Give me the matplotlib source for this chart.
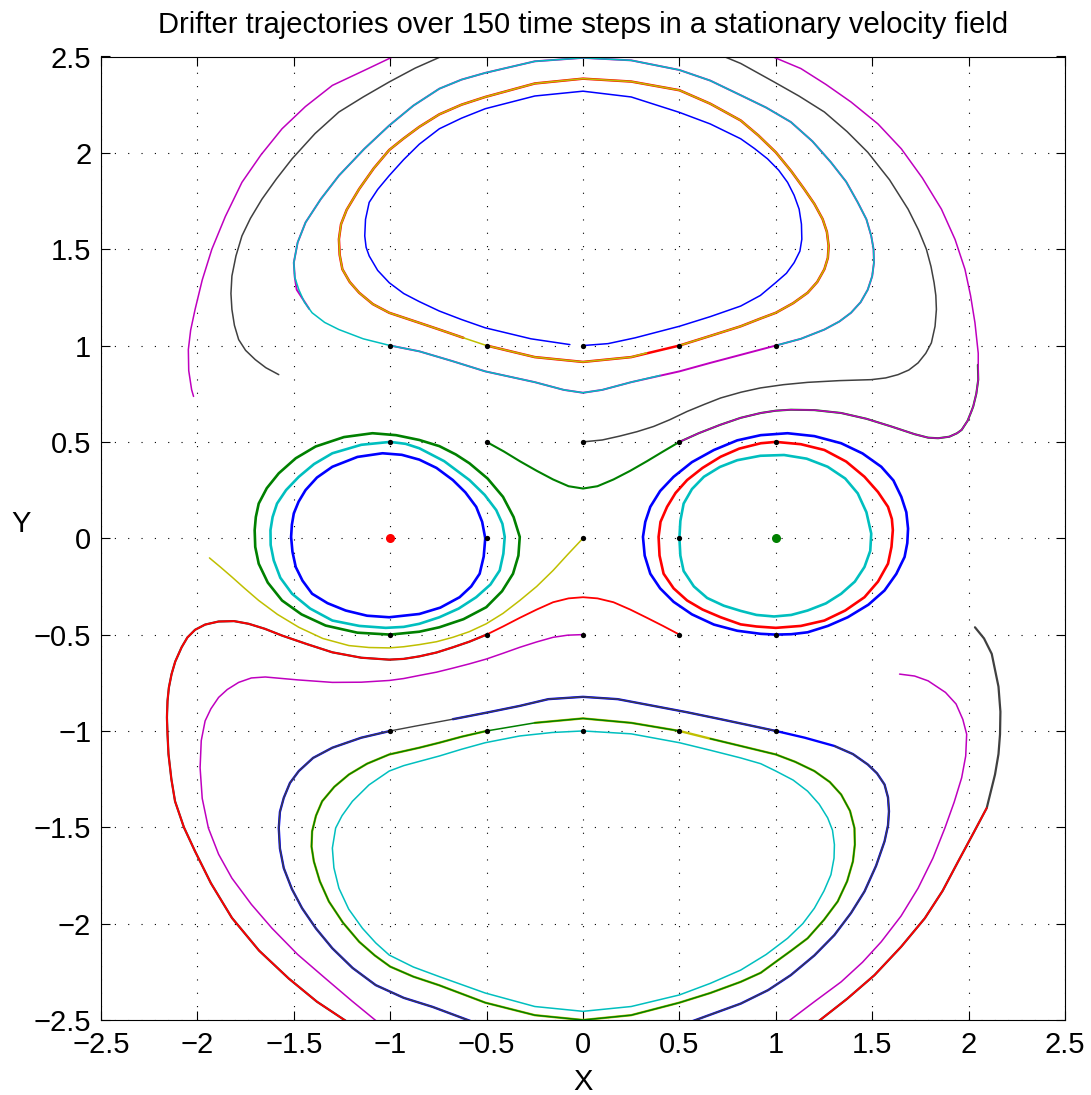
import numpy as np
import matplotlib
matplotlib.use("Agg")
import matplotlib.pyplot as plt

plt.rcParams['font.family'] = ['Liberation Sans', 'DejaVu Sans']
plt.rcParams['lines.scale_dashes'] = False

# ---------------- data ----------------
title = "Drifter trajectories over 150 time steps in a stationary velocity field"
x_ticks = [-2.5, -2, -1.5, -1, -0.5, 0, 0.5, 1, 1.5, 2, 2.5]
y_ticks = [-2.5, -2, -1.5, -1, -0.5, 0, 0.5, 1, 1.5, 2, 2.5]

start_x = [-1, -1, -1, -1, -1, -0.5, -0.5, -0.5, -0.5, -0.5, 0, 0, 0, 0, 0,
           0.5, 0.5, 0.5, 0.5, 0.5, 1, 1, 1, 1, 1]
start_y = [-1, -0.5, 0, 0.5, 1, -1, -0.5, 0, 0.5, 1, -1, -0.5, 0, 0.5, 1,
           -1, -0.5, 0, 0.5, 1, -1, -0.5, 0, 0.5, 1]

# streamlines shared by two drifters
loop_top_mid = [(-0.5, 1.0), (-0.25, 0.94), (0.0, 0.915), (0.25, 0.94), (0.5, 1.0), (0.66, 1.05),
                (0.818, 1.10), (0.92, 1.14), (1.0, 1.17), (1.09, 1.22), (1.165, 1.274),
                (1.215, 1.33), (1.252, 1.396), (1.27, 1.455), (1.274, 1.517), (1.265, 1.59),
                (1.243, 1.656), (1.2, 1.735), (1.147, 1.8125), (1.08, 1.905), (1.0, 2.003),
                (0.91, 2.09), (0.818, 2.168), (0.66, 2.255), (0.5, 2.325), (0.25, 2.37),
                (0.0, 2.385), (-0.25, 2.36), (-0.507, 2.29), (-0.63, 2.25), (-0.745, 2.2),
                (-0.849, 2.135), (-0.93, 2.075), (-1.005, 2.015), (-1.085, 1.92), (-1.161, 1.8125),
                (-1.226, 1.704), (-1.255, 1.63), (-1.266, 1.552), (-1.262, 1.47), (-1.248, 1.396),
                (-1.21, 1.33), (-1.161, 1.274), (-1.09, 1.215), (-1.005, 1.17), (-0.849, 1.118),
                (-0.745, 1.083), (-0.62, 1.04), (-0.5, 1.0)]
loop_top_out = [(-1.0, 1.0), (-0.849, 0.97), (-0.68, 0.92), (-0.507, 0.866), (-0.25, 0.81),
                (-0.1, 0.77), (0.0, 0.755), (0.1, 0.77), (0.25, 0.81), (0.5, 0.866), (0.66, 0.91),
                (0.815, 0.951), (1.0, 1.0), (1.13, 1.035), (1.252, 1.083), (1.33, 1.125),
                (1.39, 1.17), (1.44, 1.225), (1.477, 1.29), (1.5, 1.36), (1.509, 1.43),
                (1.507, 1.5), (1.495, 1.569), (1.47, 1.655), (1.425, 1.743), (1.365, 1.85),
                (1.286, 1.951), (1.19, 2.06), (1.078, 2.16), (0.95, 2.235), (0.818, 2.299),
                (0.66, 2.375), (0.5, 2.43), (0.25, 2.48), (0.0, 2.493), (-0.25, 2.475),
                (-0.507, 2.415), (-0.63, 2.38), (-0.745, 2.333), (-0.88, 2.245), (-1.005, 2.142),
                (-1.135, 2.02), (-1.266, 1.882), (-1.36, 1.76), (-1.439, 1.639), (-1.48, 1.535),
                (-1.5, 1.43), (-1.495, 1.355), (-1.474, 1.29), (-1.445, 1.225), (-1.405, 1.17),
                (-1.34, 1.12), (-1.266, 1.083), (-1.14, 1.035), (-1.0, 1.0)]
path_low_out = [(0.5, -0.5), (0.415, -0.455), (0.332, -0.413), (0.245, -0.37), (0.158, -0.332),
                (0.075, -0.312), (0.0, -0.306), (-0.075, -0.312), (-0.155, -0.332), (-0.24, -0.37),
                (-0.328, -0.413), (-0.415, -0.458), (-0.5, -0.5), (-0.59, -0.537), (-0.675, -0.566),
                (-0.76, -0.593), (-0.849, -0.613), (-0.93, -0.626), (-1.005, -0.63), (-1.15, -0.62),
                (-1.30, -0.592), (-1.43, -0.55), (-1.561, -0.505), (-1.65, -0.47), (-1.734, -0.444),
                (-1.81, -0.43), (-1.89, -0.432), (-1.96, -0.448), (-2.012, -0.475), (-2.052, -0.515),
                (-2.082, -0.566), (-2.115, -0.64), (-2.134, -0.705), (-2.148, -0.775),
                (-2.155, -0.844), (-2.158, -0.93), (-2.155, -1.017), (-2.15, -1.12), (-2.135, -1.25),
                (-2.116, -1.365), (-2.07, -1.5), (-2.012, -1.625), (-1.93, -1.79), (-1.821, -1.97),
                (-1.68, -2.14), (-1.526, -2.285), (-1.38, -2.405), (-1.222, -2.51), (0.0, -2.85),
                (1.217, -2.51), (1.37, -2.39), (1.512, -2.267), (1.65, -2.12), (1.773, -1.972),
                (1.865, -1.83), (1.946, -1.677), (2.025, -1.53), (2.094, -1.40)]
grey_tail = [(2.137, -1.226), (2.155, -1.12), (2.163, -1.017), (2.165, -0.90), (2.155, -0.77),
             (2.12, -0.60), (2.08, -0.52), (2.033, -0.462)]
loop_low_mid = [(0.5, -1.0), (0.25, -0.958), (0.0, -0.935), (-0.25, -0.958), (-0.5, -1.0),
                (-0.63, -1.03), (-0.745, -1.061), (-0.849, -1.087), (-1.005, -1.122), (-1.12, -1.17),
                (-1.214, -1.226), (-1.29, -1.29), (-1.353, -1.365), (-1.385, -1.44), (-1.405, -1.521),
                (-1.408, -1.6), (-1.396, -1.677), (-1.365, -1.78), (-1.318, -1.885), (-1.245, -1.995),
                (-1.161, -2.094), (-1.08, -2.165), (-1.0, -2.223), (-0.88, -2.275), (-0.745, -2.32),
                (-0.507, -2.41), (-0.25, -2.475), (0.0, -2.50), (0.25, -2.475), (0.5, -2.41),
                (0.66, -2.36), (0.818, -2.302), (0.922, -2.255), (1.0, -2.198), (1.08, -2.14),
                (1.165, -2.076), (1.25, -1.98), (1.321, -1.885), (1.37, -1.78), (1.4, -1.677),
                (1.41, -1.59), (1.408, -1.504), (1.385, -1.415), (1.339, -1.33), (1.28, -1.265),
                (1.2, -1.208), (1.1, -1.16), (1.0, -1.122), (0.818, -1.078), (0.66, -1.04),
                (0.5, -1.0)]
loop_low_out = [(-1.0, -1.0), (-1.15, -1.035), (-1.30, -1.087), (-1.40, -1.14), (-1.474, -1.208),
                (-1.52, -1.27), (-1.552, -1.347), (-1.572, -1.42), (-1.578, -1.504), (-1.572, -1.61),
                (-1.552, -1.712), (-1.51, -1.82), (-1.457, -1.92), (-1.385, -2.025), (-1.30, -2.128),
                (-1.195, -2.23), (-1.075, -2.319), (-0.93, -2.385), (-0.78, -2.432), (-0.571, -2.51),
                (0.0, -2.58), (0.557, -2.51), (0.818, -2.415), (0.96, -2.345), (1.078, -2.267),
                (1.2, -2.165), (1.304, -2.059), (1.39, -1.945), (1.46, -1.833), (1.52, -1.7),
                (1.564, -1.573), (1.582, -1.49), (1.587, -1.417), (1.582, -1.345), (1.564, -1.278),
                (1.525, -1.22), (1.477, -1.174), (1.4, -1.12), (1.304, -1.078), (1.15, -1.035),
                (1.0, -1.0), (0.86, -0.97), (0.714, -0.939), (0.54, -0.903), (0.366, -0.87),
                (0.18, -0.835), (0.0, -0.823), (-0.18, -0.835), (-0.328, -0.87), (-0.5, -0.905),
                (-0.675, -0.939), (-0.745, -0.952), (-0.87, -0.975), (-1.0, -1.0)]
magenta_top_tail = [(-1.485, 1.29), (-1.42, 1.19)]
cyan_top_tail = [(0.4, 0.845)]
yellow_top_tail = [(0.33, 0.962)]

# single drifters
d01 = [(-1.0, -0.5), (-1.17, -0.49), (-1.335, -0.453), (-1.46, -0.395), (-1.561, -0.323),
       (-1.635, -0.23), (-1.682, -0.132), (-1.70, -0.045), (-1.703, 0.042), (-1.697, 0.11),
       (-1.682, 0.18), (-1.64, 0.26), (-1.578, 0.337), (-1.49, 0.415), (-1.387, 0.476),
       (-1.24, 0.525), (-1.092, 0.545), (-0.97, 0.535), (-0.849, 0.51), (-0.745, 0.478),
       (-0.66, 0.435), (-0.589, 0.389), (-0.495, 0.31), (-0.415, 0.215), (-0.36, 0.11),
       (-0.328, 0.007), (-0.335, -0.09), (-0.363, -0.184), (-0.42, -0.275), (-0.502, -0.358),
       (-0.62, -0.42), (-0.745, -0.462), (-0.849, -0.485), (-1.0, -0.5)]
d02 = [(-1.0, 0.0)]
d03 = [(-1.0, 0.5), (-0.92, 0.49), (-0.849, 0.467), (-0.72, 0.40), (-0.589, 0.302), (-0.51, 0.225),
       (-0.45, 0.146), (-0.418, 0.075), (-0.406, 0.007), (-0.413, -0.08), (-0.432, -0.167),
       (-0.48, -0.24), (-0.554, -0.306), (-0.645, -0.365), (-0.745, -0.41), (-0.849, -0.444),
       (-0.93, -0.46), (-1.023, -0.465), (-1.16, -0.455), (-1.30, -0.427), (-1.415, -0.365),
       (-1.509, -0.288), (-1.57, -0.205), (-1.604, -0.115), (-1.62, -0.035), (-1.621, 0.042),
       (-1.61, 0.11), (-1.587, 0.18), (-1.54, 0.25), (-1.474, 0.319), (-1.395, 0.385),
       (-1.30, 0.441), (-1.15, 0.485), (-1.0, 0.5)]
d07 = [(-0.507, 0.0), (-0.515, -0.095), (-0.536, -0.184), (-0.58, -0.25), (-0.64, -0.306),
       (-0.74, -0.36), (-0.849, -0.393), (-1.005, -0.41), (-1.12, -0.402), (-1.231, -0.375),
       (-1.325, -0.337), (-1.405, -0.288), (-1.455, -0.22), (-1.49, -0.149), (-1.507, -0.07),
       (-1.514, 0.007), (-1.51, 0.07), (-1.5, 0.129), (-1.475, 0.19), (-1.439, 0.25),
       (-1.38, 0.315), (-1.30, 0.371), (-1.17, 0.422), (-1.04, 0.441), (-0.94, 0.433),
       (-0.849, 0.408), (-0.76, 0.365), (-0.675, 0.302), (-0.61, 0.238), (-0.554, 0.163),
       (-0.523, 0.085), (-0.507, 0.0)]
d08_head = [(-0.5, 0.5), (-0.41, 0.45), (-0.328, 0.4), (-0.24, 0.35), (-0.155, 0.305),
            (-0.075, 0.27), (0.0, 0.258), (0.075, 0.27), (0.158, 0.305), (0.245, 0.35),
            (0.332, 0.4), (0.415, 0.45)]
d10 = [(0.0, -1.0), (-0.16, -1.008), (-0.328, -1.026), (-0.507, -1.061), (-0.63, -1.095),
       (-0.745, -1.13), (-0.849, -1.158), (-0.93, -1.18), (-1.005, -1.208), (-1.11, -1.28),
       (-1.196, -1.365), (-1.25, -1.44), (-1.283, -1.504), (-1.30, -1.608), (-1.292, -1.71),
       (-1.266, -1.816), (-1.215, -1.925), (-1.144, -2.024), (-1.075, -2.1), (-1.005, -2.163),
       (-0.88, -2.225), (-0.745, -2.275), (-0.507, -2.36), (-0.25, -2.43), (0.0, -2.455),
       (0.25, -2.43), (0.5, -2.37), (0.66, -2.31), (0.818, -2.241), (0.95, -2.16),
       (1.061, -2.076), (1.14, -2.0), (1.2, -1.92), (1.25, -1.83), (1.286, -1.746),
       (1.302, -1.66), (1.304, -1.59), (1.294, -1.515), (1.269, -1.451), (1.225, -1.38),
       (1.165, -1.3125), (1.09, -1.255), (1.0, -1.208), (0.922, -1.17), (0.818, -1.14),
       (0.66, -1.1), (0.5, -1.061), (0.25, -1.015), (0.0, -1.0)]
d11 = [(0.0, -0.5), (-0.08, -0.503), (-0.155, -0.514), (-0.24, -0.538), (-0.328, -0.566),
       (-0.415, -0.597), (-0.502, -0.627), (-0.59, -0.652), (-0.675, -0.674), (-0.76, -0.695),
       (-0.849, -0.712), (-0.93, -0.728), (-1.005, -0.738), (-1.15, -0.747), (-1.30, -0.748),
       (-1.48, -0.735), (-1.648, -0.72), (-1.72, -0.725), (-1.786, -0.748), (-1.845, -0.785),
       (-1.89, -0.826), (-1.93, -0.885), (-1.96, -0.948), (-1.98, -1.05), (-1.986, -1.191),
       (-1.975, -1.35), (-1.943, -1.504), (-1.89, -1.64), (-1.821, -1.764), (-1.72, -1.9),
       (-1.613, -2.024), (-1.48, -2.16), (-1.335, -2.285), (-1.2, -2.4), (-1.066, -2.51),
       (0.0, -2.75), (1.061, -2.51), (1.2, -2.405), (1.339, -2.302), (1.45, -2.2),
       (1.547, -2.094), (1.65, -1.96), (1.738, -1.816), (1.815, -1.66), (1.877, -1.504),
       (1.925, -1.37), (1.964, -1.243), (1.985, -1.13), (1.99, -1.017), (1.97, -0.94),
       (1.935, -0.86), (1.88, -0.80), (1.79, -0.74), (1.72, -0.715), (1.642, -0.705)]
d12 = [(0.0, 0.0), (-0.08, -0.085), (-0.155, -0.167), (-0.24, -0.25), (-0.328, -0.323),
       (-0.415, -0.39), (-0.502, -0.444), (-0.59, -0.485), (-0.675, -0.514), (-0.76, -0.537),
       (-0.849, -0.552), (-0.93, -0.563), (-1.005, -0.569), (-1.11, -0.567), (-1.214, -0.557),
       (-1.35, -0.52), (-1.474, -0.462), (-1.585, -0.395), (-1.682, -0.323), (-1.755, -0.26),
       (-1.821, -0.201), (-1.88, -0.15), (-1.9375, -0.102)]
d13 = [(0.0, 0.5), (0.1, 0.51), (0.19, 0.53), (0.28, 0.553), (0.366, 0.58), (0.45, 0.615),
       (0.54, 0.658), (0.63, 0.695), (0.714, 0.728), (0.82, 0.758), (0.92, 0.78), (1.04, 0.797),
       (1.165, 0.809), (1.33, 0.818), (1.495, 0.823), (1.57, 0.832), (1.634, 0.849),
       (1.69, 0.873), (1.738, 0.91), (1.778, 0.96), (1.807, 1.014), (1.826, 1.1),
       (1.833, 1.1875), (1.83, 1.26), (1.821, 1.326), (1.805, 1.41), (1.781, 1.5), (1.74, 1.6),
       (1.686, 1.708), (1.59, 1.86), (1.477, 2.003), (1.37, 2.11), (1.252, 2.212),
       (1.12, 2.295), (0.991, 2.368), (0.818, 2.464), (0.714, 2.507), (0.0, 2.62),
       (-0.719, 2.507), (-0.87, 2.44), (-1.005, 2.368), (-1.14, 2.29), (-1.266, 2.212),
       (-1.39, 2.1), (-1.509, 1.969), (-1.59, 1.865), (-1.665, 1.76), (-1.725, 1.66),
       (-1.769, 1.569), (-1.8, 1.465), (-1.821, 1.361), (-1.826, 1.27), (-1.821, 1.1875),
       (-1.808, 1.105), (-1.786, 1.031), (-1.75, 0.975), (-1.7, 0.927), (-1.645, 0.885),
       (-1.578, 0.849)]
d14 = [(0.0, 1.0), (0.13, 1.01), (0.27, 1.04), (0.5, 1.10), (0.66, 1.15), (0.818, 1.205),
       (0.92, 1.26), (1.0, 1.327), (1.055, 1.375), (1.095, 1.43), (1.125, 1.49), (1.135, 1.552),
       (1.133, 1.63), (1.121, 1.708), (1.095, 1.78), (1.061, 1.847), (1.015, 1.91),
       (0.957, 1.969), (0.89, 2.022), (0.818, 2.073), (0.66, 2.15), (0.5, 2.21), (0.25, 2.29),
       (0.0, 2.32), (-0.25, 2.295), (-0.507, 2.229), (-0.63, 2.18), (-0.745, 2.125),
       (-0.849, 2.045), (-0.93, 1.965), (-1.005, 1.882), (-1.065, 1.81), (-1.109, 1.743),
       (-1.128, 1.655), (-1.132, 1.569), (-1.125, 1.51), (-1.109, 1.465), (-1.065, 1.39),
       (-1.005, 1.326), (-0.93, 1.27), (-0.849, 1.228), (-0.745, 1.179), (-0.63, 1.135),
       (-0.507, 1.092), (-0.27, 1.035), (-0.068, 1.005)]
d17 = [(0.5, 0.0), (0.505, 0.09), (0.522, 0.18), (0.565, 0.255), (0.627, 0.319), (0.71, 0.37),
       (0.8, 0.405), (0.92, 0.428), (1.043, 0.432), (1.16, 0.413), (1.269, 0.371), (1.36, 0.31),
       (1.425, 0.233), (1.47, 0.135), (1.495, 0.024), (1.49, -0.065), (1.46, -0.149),
       (1.41, -0.225), (1.339, -0.288), (1.26, -0.338), (1.165, -0.375), (1.08, -0.398),
       (0.991, -0.406), (0.9, -0.398), (0.818, -0.377), (0.73, -0.35), (0.644, -0.31),
       (0.575, -0.25), (0.522, -0.17), (0.505, -0.09), (0.5, 0.0)]
d18 = [(0.5, 0.5), (0.6, 0.545), (0.71, 0.588), (0.818, 0.625), (0.922, 0.65), (1.0, 0.662),
       (1.078, 0.667), (1.2, 0.665), (1.339, 0.65), (1.47, 0.62), (1.599, 0.58), (1.72, 0.54),
       (1.79, 0.522), (1.842, 0.519), (1.9, 0.527), (1.94, 0.545), (1.964, 0.5625),
       (1.995, 0.61), (2.015, 0.66), (2.024, 0.684), (2.04, 0.75), (2.05, 0.823), (2.05, 0.96),
       (2.033, 1.118), (2.01, 1.26), (1.981, 1.396), (1.93, 1.55), (1.859, 1.708), (1.76, 1.87),
       (1.651, 2.021), (1.53, 2.15), (1.39, 2.264), (1.26, 2.355), (1.13, 2.4375),
       (0.957, 2.51), (0.0, 2.72), (-0.962, 2.51), (-1.13, 2.43), (-1.30, 2.35), (-1.44, 2.24),
       (-1.561, 2.125), (-1.67, 1.99), (-1.769, 1.847), (-1.855, 1.67), (-1.925, 1.5),
       (-1.975, 1.34), (-2.012, 1.1875), (-2.035, 1.08), (-2.047, 0.979), (-2.045, 0.87),
       (-2.03, 0.771), (-2.02, 0.736)]
d21 = [(1.0, -0.5), (0.922, -0.496), (0.8, -0.48), (0.679, -0.448), (0.565, -0.395),
       (0.47, -0.33), (0.4, -0.26), (0.349, -0.184), (0.32, -0.09), (0.311, 0.007),
       (0.323, 0.085), (0.349, 0.163), (0.4, 0.245), (0.47, 0.319), (0.565, 0.395),
       (0.679, 0.458), (0.8, 0.508), (0.922, 0.535), (1.061, 0.545), (1.2, 0.53), (1.339, 0.493),
       (1.45, 0.44), (1.547, 0.371), (1.61, 0.3), (1.651, 0.215), (1.677, 0.135), (1.686, 0.05),
       (1.682, -0.025), (1.668, -0.097), (1.625, -0.185), (1.564, -0.271), (1.48, -0.345),
       (1.373, -0.41), (1.27, -0.455), (1.165, -0.488), (1.08, -0.498), (1.0, -0.5)]
d22 = [(1.0, 0.0)]
d23 = [(1.0, 0.5), (1.13, 0.488), (1.252, 0.458), (1.365, 0.398), (1.46, 0.319), (1.53, 0.24),
       (1.582, 0.163), (1.602, 0.1), (1.607, 0.042), (1.6, -0.045), (1.582, -0.132),
       (1.53, -0.225), (1.46, -0.306), (1.36, -0.375), (1.252, -0.427), (1.13, -0.455),
       (1.0, -0.465), (0.9, -0.458), (0.818, -0.447), (0.714, -0.41), (0.62, -0.37),
       (0.54, -0.323), (0.47, -0.26), (0.418, -0.184), (0.397, -0.09), (0.392, 0.007),
       (0.402, 0.085), (0.436, 0.163), (0.48, 0.235), (0.54, 0.302), (0.62, 0.365),
       (0.714, 0.423), (0.81, 0.465), (0.922, 0.493), (1.0, 0.5)]


# drifters that share a streamline: cut from the shared point lists
def cut(path, a, b):
    ia = path.index(a)
    ib = ia + 1 + path[ia + 1:].index(b)
    return path[ia:ib + 1]


d00 = cut(loop_low_out, (-1.0, -1.0), (-0.675, -0.939))
d20 = (cut(loop_low_out, (1.0, -1.0), (-1.0, -1.0))[:-1]
       + cut(loop_low_out, (-1.0, -1.0), (1.304, -1.078)))
d04 = cut(loop_top_out, (-1.0, 1.0), (-1.445, 1.225))[:-2] + magenta_top_tail
d24 = (cut(loop_top_out, (1.0, 1.0), (-1.0, 1.0))[:-1]
       + cut(loop_top_out, (-1.0, 1.0), (0.25, 0.81)) + cyan_top_tail)
d05 = (cut(loop_low_mid, (-0.5, -1.0), (0.5, -1.0))[:-1]
       + cut(loop_low_mid, (0.5, -1.0), (-0.25, -0.958)))
d15 = cut(loop_low_mid, (0.5, -1.0), (0.66, -1.04))
d06 = cut(path_low_out, (-0.5, -0.5), (2.094, -1.40)) + grey_tail
d16 = list(path_low_out)
d08 = d08_head + cut(d18, (0.5, 0.5), (2.05, 0.823)) + [(2.048, 0.90)]
d09 = cut(loop_top_mid, (-0.5, 1.0), (-0.62, 1.04))
d19 = (cut(loop_top_mid, (0.5, 1.0), (-0.5, 1.0))[:-1]
       + cut(loop_top_mid, (-0.5, 1.0), (0.25, 0.94)) + yellow_top_tail)

drifters = [d00, d01, d02, d03, d04, d05, d06, d07, d08, d09, d10, d11, d12,
            d13, d14, d15, d16, d17, d18, d19, d20, d21, d22, d23, d24]

# ---------------- style ----------------
color_order = [(0, 0, 1), (0, 0.5, 0), (1, 0, 0), (0, 0.75, 0.75),
               (0.75, 0, 0.75), (0.75, 0.75, 0), (0.25, 0.25, 0.25)]
line_w = {1: 1.9, 3: 1.9, 7: 1.9, 17: 1.9, 21: 1.9, 23: 1.9,
          0: 1.7, 20: 1.0, 5: 1.7, 15: 1.1, 9: 1.8, 19: 1.1,
          4: 1.4, 24: 1.1, 8: 1.5, 18: 1.1, 6: 1.6, 16: 1.3}

fig = plt.figure(figsize=(10.91, 10.95), dpi=100)
ax = fig.add_axes([101 / 1091, 1 - 1020 / 1095, 964 / 1091, 963.5 / 1095])

for i, path in enumerate(drifters):
    col = color_order[i % 7]
    pts = np.array(path)
    if len(pts) == 1:
        ax.plot(pts[:, 0], pts[:, 1], 'o', color=col, markersize=6.5,
                markeredgewidth=0, zorder=4)
    else:
        ax.plot(pts[:, 0], pts[:, 1], '-', color=col, lw=line_w.get(i, 1.1),
                solid_joinstyle='round', solid_capstyle='round', zorder=2)

moving = [i for i, p in enumerate(drifters) if len(p) > 1]
ax.plot([start_x[i] for i in moving], [start_y[i] for i in moving], 'o',
        color='k', markersize=3.8, markeredgewidth=0, zorder=3)

ax.set_xlim(-2.5, 2.5)
ax.set_ylim(-2.5, 2.5)
ax.set_xticks(x_ticks)
ax.set_yticks(y_ticks)
ax.set_xticklabels([f"{t:g}".replace('-', '\u2212') for t in x_ticks])
ax.set_yticklabels([f"{t:g}".replace('-', '\u2212') for t in y_ticks])
ax.grid(True, color='k', linestyle=(0, (0.8, 8.8)), linewidth=0.8)
ax.set_axisbelow(True)
ax.tick_params(direction='in', length=6.5, width=0.8, top=True, right=True,
               labelsize=21, colors='k')
ax.tick_params(axis='x', pad=8)
ax.tick_params(axis='y', pad=7)
for s in ax.spines.values():
    s.set_linewidth(0.8)
    s.set_color('k')

fig.text(583 / 1091, 1 - 33.3 / 1095, title, ha='center', va='baseline', fontsize=21)
fig.text(21 / 1091, 1 - 532 / 1095, 'Y', ha='center', va='baseline', fontsize=21)
fig.text(583 / 1091, 1 - 1090.5 / 1095, 'X', ha='center', va='baseline', fontsize=21)

fig.savefig('out.png', dpi=100)
